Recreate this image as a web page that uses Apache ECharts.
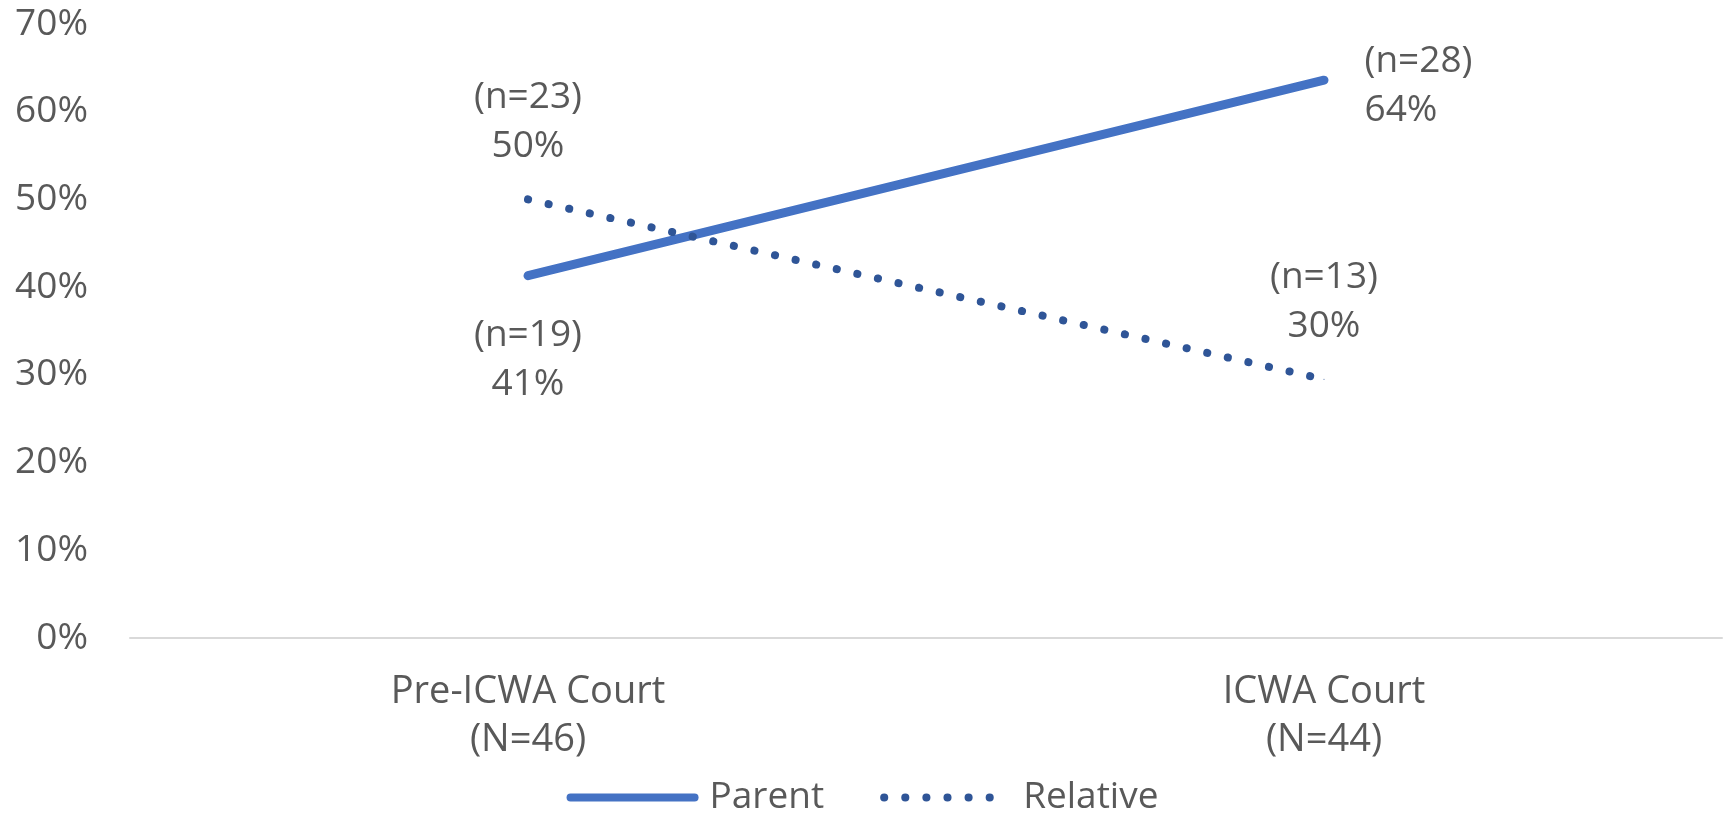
<!DOCTYPE html>
<html>
<head>
<meta charset="utf-8">
<script src="https://cdn.jsdelivr.net/npm/echarts@6/dist/echarts.min.js"></script>
<style>
  html, body { margin: 0; padding: 0; background: #fff; }
  #chart { width: 1725px; height: 814px; }
</style>
</head>
<body>
<div id="chart"></div>
<script>
// categories and values
const categories = ['Pre-ICWA Court\n(N=46)', 'ICWA Court\n(N=44)']
const parentValues = [41.3, 63.6]
const parentCounts = [19, 28]
const relativeValues = [50, 29.5]
const relativeCounts = [23, 13]

const textColor = '#595959'
const font = '"Open Sans", "Noto Sans", sans-serif'

const chart = echarts.init(document.getElementById('chart'))

const makeLabel = (counts) => ({
  show: true,
  color: textColor,
  fontFamily: font,
  fontSize: 37,
  lineHeight: 49,
  formatter: (p) => '(n=' + counts[p.dataIndex] + ')\n' + Math.round(p.value) + '%'
})

const option = {
  animation: false,
  grid: {
    left: 130,
    right: 3,
    top: 24,
    bottom: 176
  },
  legend: {
    bottom: -7,
    left: 'center',
    itemWidth: 124,
    itemHeight: 10,
    itemGap: 56,
    itemStyle: { opacity: 0 },
    lineStyle: { width: 8, cap: 'round' },
    textStyle: {
      color: textColor,
      fontFamily: font,
      fontSize: 37,
      padding: [0, 0, 0, 10]
    },
    data: ['Parent', 'Relative']
  },
  xAxis: {
    type: 'category',
    data: categories,
    boundaryGap: true,
    axisLine: { lineStyle: { color: '#D9D9D9', width: 2 } },
    axisTick: { show: false },
    axisLabel: {
      color: textColor,
      fontFamily: font,
      fontSize: 38,
      lineHeight: 48,
      margin: 30
    }
  },
  yAxis: {
    type: 'value',
    min: 0,
    max: 70,
    interval: 10,
    splitLine: { show: false },
    axisLine: { show: false },
    axisTick: { show: false },
    axisLabel: {
      color: textColor,
      fontFamily: font,
      fontSize: 37,
      margin: 42,
      formatter: '{value}%'
    }
  },
  series: [
    {
      name: 'Parent',
      type: 'line',
      symbol: 'circle',
      symbolSize: 1,
      data: parentValues.map((v, i) => ({
        value: v,
        label: i === 0
          ? { position: 'bottom', distance: 35 }
          : { position: 'right', distance: 40, offset: [0, 6] }
      })),
      lineStyle: { color: '#4472C4', width: 9, cap: 'round' },
      itemStyle: { color: '#4472C4' },
      label: makeLabel(parentCounts)
    },
    {
      name: 'Relative',
      type: 'line',
      symbol: 'circle',
      symbolSize: 1,
      data: relativeValues.map((v) => ({
        value: v,
        label: { position: 'top', distance: 28 }
      })),
      lineStyle: { color: '#2F5597', width: 8, type: [0.1, 21], cap: 'round' },
      itemStyle: { color: '#2F5597' },
      label: makeLabel(relativeCounts)
    }
  ]
}

chart.setOption(option)
</script>
</body>
</html>
